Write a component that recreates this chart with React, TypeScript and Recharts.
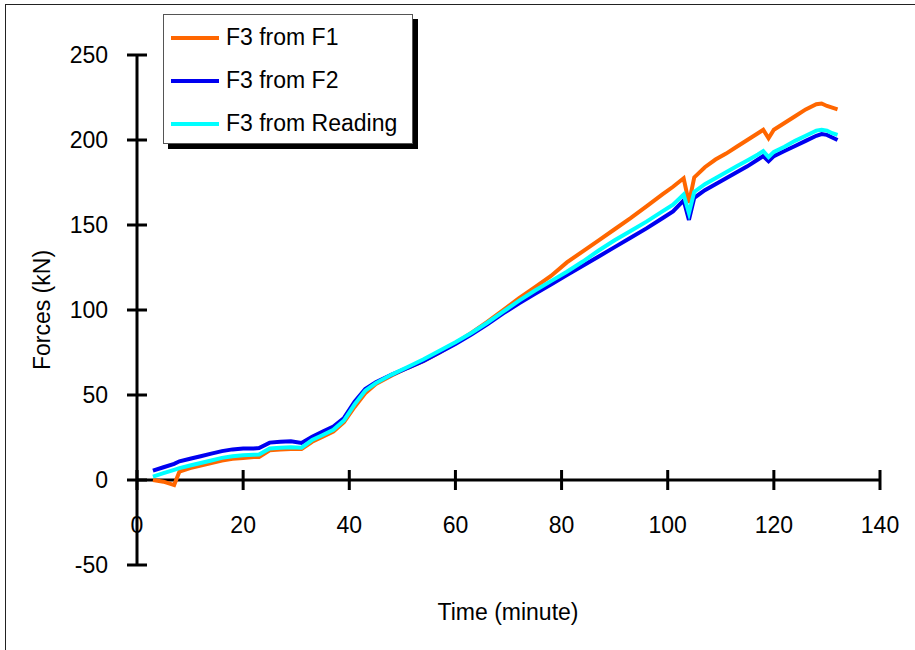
import { LineChart, Line, XAxis, YAxis, ReferenceLine, Legend } from 'recharts';

// time in minutes, forces in kN
const time = [3, 5, 7, 8, 10, 12, 14, 16, 18, 20, 22, 23, 25, 27, 29, 31, 33, 35, 37, 39, 41, 43, 45, 48, 51, 54, 57, 60, 63, 66, 69, 72, 75, 78, 81, 84, 87, 90, 93, 96, 99, 101, 103, 104, 105, 107, 109, 111, 113, 115, 117, 118, 119, 120, 122, 124, 126, 128, 129, 130, 131, 132];

const f3FromF1 = [0, -1, -3, 5, 7, 8.5, 10, 11.5, 12.5, 13, 13.5, 13.5, 17.5, 18, 18.2, 18.2, 22.5, 25.5, 28.5, 34, 43, 51, 56.5, 61.5, 66, 70, 75, 80.5, 86.5, 93, 100, 107, 113.5, 120, 128, 134.5, 141, 147.5, 154, 161, 168, 172.5, 177.5, 163, 178, 184, 188.5, 192, 196, 200, 204, 206, 201, 206, 210, 214, 218, 221, 221.5, 220, 219, 218];

const f3FromF2 = [5.5, 7.5, 9.5, 11, 12.5, 14, 15.5, 17, 18, 18.5, 18.5, 18.8, 22, 22.5, 22.8, 21.8, 25.5, 28.5, 31.5, 36.5, 46, 53.5, 57.5, 62, 66, 70, 75, 80, 85.5, 91.5, 98, 104, 109.5, 115, 120.5, 126, 131.5, 137, 142.5, 148, 154, 158, 164.5, 153, 166, 170.5, 174, 177.5, 181, 184.5, 188.5, 190.5, 187.5, 190.5, 193.5, 196.5, 199.5, 202.5, 203.5, 203, 201.5, 200];

const f3FromReading = [2, 4, 6, 7, 8.5, 10, 11.5, 13, 14, 14.5, 14.8, 15, 18.5, 19, 19.2, 19, 23.5, 26.5, 29.5, 35, 44.5, 52.5, 57, 62, 66.5, 71, 76, 81, 86.5, 92.5, 99, 105.5, 111.5, 117, 122.5, 128.5, 135, 141, 146.5, 152, 158, 162, 168, 157, 169.5, 174, 177.5, 181, 184.5, 188, 191.5, 193.5, 190, 193, 196, 199.5, 202.5, 205.5, 206, 205.5, 204, 203];

const xTicks = [0, 20, 40, 60, 80, 100, 120, 140];
const yTicks = [-50, 0, 50, 100, 150, 200, 250];

const series = [
  { key: 'f1', name: 'F3 from F1', color: '#ff6600' },
  { key: 'f2', name: 'F3 from F2', color: '#0000f0' },
  { key: 'reading', name: 'F3 from Reading', color: '#00ffff' },
];

const data = time.map((t, i) => ({
  t,
  f1: f3FromF1[i],
  f2: f3FromF2[i],
  reading: f3FromReading[i],
}));

const FONT = '"Liberation Sans", Arial, sans-serif';
const PLOT_TOP = 55;
const PLOT_BOTTOM = 565;
const PLOT_H = PLOT_BOTTOM - PLOT_TOP;
const Y_MIN = -50;
const Y_MAX = 250;

// x ticks sit on the y=0 line, labels hang below it
function XTick({ x, y, payload }: any) {
  const zeroY = y - (PLOT_H * (0 - Y_MIN)) / (Y_MAX - Y_MIN);
  return (
    <g>
      <line x1={x} x2={x} y1={zeroY - 10} y2={zeroY + 10} stroke="#000" strokeWidth={3} />
      <text x={x} y={y - 40} textAnchor="middle" dominantBaseline="central" fontSize={23} fontFamily={FONT} fill="#000">
        {payload.value}
      </text>
    </g>
  );
}

function YTick({ x, y, payload }: any) {
  return (
    <g>
      <line x1={x - 10} x2={x + 10} y1={y} y2={y} stroke="#000" strokeWidth={3} />
      <text x={x - 29} y={y} textAnchor="end" dominantBaseline="central" fontSize={23} fontFamily={FONT} fill="#000">
        {payload.value}
      </text>
    </g>
  );
}

function LegendBox() {
  return (
    <div
      style={{
        width: 250,
        height: 130,
        boxSizing: 'border-box',
        border: '1px solid #555',
        background: '#fff',
        boxShadow: '5px 5px 0 #000',
        paddingTop: 1,
        fontFamily: FONT,
      }}
    >
      {series.map((s) => (
        <div key={s.key} style={{ height: 43, display: 'flex', alignItems: 'center' }}>
          <div style={{ width: 48, height: 4, marginLeft: 7, background: s.color }} />
          <span style={{ marginLeft: 7, fontSize: 23, color: '#000', whiteSpace: 'nowrap' }}>{s.name}</span>
        </div>
      ))}
    </div>
  );
}

export default function App() {
  return (
    <div style={{ position: 'fixed', left: 0, top: 0, width: 915, height: 650, overflow: 'hidden', background: '#fff', fontFamily: FONT }}>
      {/* frame, cut off at the right and bottom like the original */}
      <div style={{ position: 'absolute', left: 5, top: 4, width: 940, height: 680, border: '1px solid #222' }} />

      <div style={{ position: 'absolute', left: 0, top: 0 }}>
        <LineChart width={915} height={650} data={data} margin={{ top: PLOT_TOP, right: 35, bottom: 55, left: 77 }}>
          <XAxis
            dataKey="t"
            type="number"
            domain={[0, 140]}
            ticks={xTicks}
            axisLine={false}
            tickLine={false}
            tickSize={0}
            tickMargin={0}
            height={30}
            tick={<XTick />}
            interval={0}
          />
          <YAxis
            type="number"
            domain={[Y_MIN, Y_MAX]}
            ticks={yTicks}
            axisLine={{ stroke: '#000', strokeWidth: 3 }}
            tickLine={false}
            tickSize={0}
            tickMargin={0}
            width={60}
            tick={<YTick />}
            interval={0}
          />
          <ReferenceLine y={0} stroke="#000" strokeWidth={3} />
          {series.map((s) => (
            <Line
              key={s.key}
              type="linear"
              dataKey={s.key}
              name={s.name}
              stroke={s.color}
              strokeWidth={4}
              dot={false}
              isAnimationActive={false}
            />
          ))}
          <Legend
            layout="vertical"
            align="center"
            verticalAlign="middle"
            content={<LegendBox />}
            wrapperStyle={{ left: 163, top: 14, width: 256, height: 136 }}
          />
        </LineChart>
      </div>

      <div
        style={{
          position: 'absolute',
          left: 42,
          top: 310,
          transform: 'translate(-50%, -50%) rotate(-90deg)',
          fontSize: 23,
          whiteSpace: 'nowrap',
          color: '#000',
        }}
      >
        Forces (kN)
      </div>
      <div
        style={{
          position: 'absolute',
          left: 508,
          top: 612,
          transform: 'translate(-50%, -50%)',
          fontSize: 23,
          whiteSpace: 'nowrap',
          color: '#000',
        }}
      >
        Time (minute)
      </div>
    </div>
  );
}
